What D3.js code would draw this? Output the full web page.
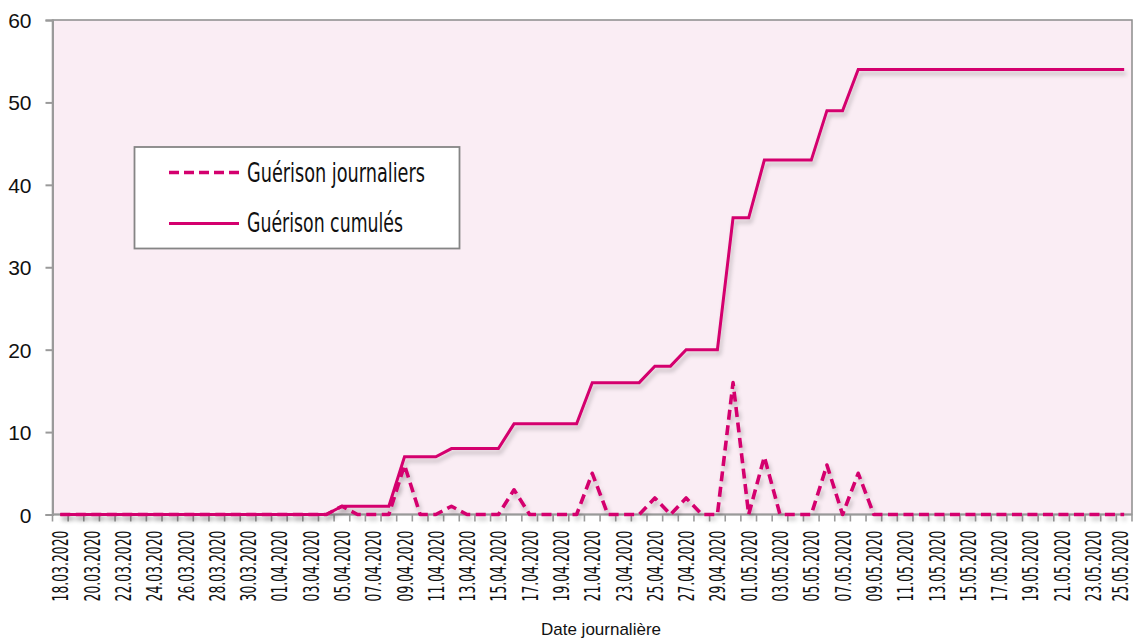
<!DOCTYPE html>
<html><head><meta charset="utf-8">
<script src="https://cdn.jsdelivr.net/npm/d3@7"></script>
<style>html,body{margin:0;padding:0;background:#fff;}svg{display:block;}</style>
</head><body>
<svg id="chart" width="1133" height="640"></svg>
<script>
const dates = ["18.03.2020","19.03.2020","20.03.2020","21.03.2020","22.03.2020","23.03.2020","24.03.2020","25.03.2020","26.03.2020","27.03.2020","28.03.2020","29.03.2020","30.03.2020","31.03.2020",
"01.04.2020","02.04.2020","03.04.2020","04.04.2020","05.04.2020","06.04.2020","07.04.2020","08.04.2020","09.04.2020","10.04.2020","11.04.2020","12.04.2020","13.04.2020","14.04.2020","15.04.2020","16.04.2020","17.04.2020","18.04.2020","19.04.2020","20.04.2020","21.04.2020","22.04.2020","23.04.2020","24.04.2020","25.04.2020","26.04.2020","27.04.2020","28.04.2020","29.04.2020","30.04.2020",
"01.05.2020","02.05.2020","03.05.2020","04.05.2020","05.05.2020","06.05.2020","07.05.2020","08.05.2020","09.05.2020","10.05.2020","11.05.2020","12.05.2020","13.05.2020","14.05.2020","15.05.2020","16.05.2020","17.05.2020","18.05.2020","19.05.2020","20.05.2020","21.05.2020","22.05.2020","23.05.2020","24.05.2020","25.05.2020"];
const guerisonJournaliers = [0,0,0,0,0,0,0,0,0,0,0,0,0,0,0,0,0,0,1,0,0,0,6,0,0,1,0,0,0,3,0,0,0,0,5,0,0,0,2,0,2,0,0,16,0,7,0,0,0,6,0,5,0,0,0,0,0,0,0,0,0,0,0,0,0,0,0,0,0];
const guerisonCumules = [0,0,0,0,0,0,0,0,0,0,0,0,0,0,0,0,0,0,1,1,1,1,7,7,7,8,8,8,8,11,11,11,11,11,16,16,16,16,18,18,20,20,20,36,36,43,43,43,43,49,49,54,54,54,54,54,54,54,54,54,54,54,54,54,54,54,54,54,54];
const yTicks = [0,10,20,30,40,50,60];
const seriesNames = ["Guérison journaliers","Guérison cumulés"];
const xTitle = "Date journalière";

const svg = d3.select("#chart");
const L = 52.5, R = 1132, T = 20, B = 514.5;
const color = "#D4006E";

const x = d3.scaleBand().domain(dates).range([L, R]).padding(0);
const y = d3.scaleLinear().domain([0, 60]).range([B, T]);
const cx = d => x(d) + x.bandwidth() / 2;

const defs = svg.append("defs");
const f = defs.append("filter").attr("id", "sh").attr("x", "-5%").attr("y", "-20%").attr("width", "110%").attr("height", "150%");
f.append("feDropShadow").attr("dx", 2).attr("dy", 4).attr("stdDeviation", 2.2).attr("flood-color", "#000").attr("flood-opacity", 0.22);

// plot background
svg.append("rect").attr("x", L).attr("y", T).attr("width", R - L).attr("height", B - T)
  .attr("fill", "#FAEDF4").attr("stroke", "#8c8c8c").attr("stroke-width", 1.5);

// y axis
const yAxis = svg.append("g").attr("transform", `translate(${L},0)`)
  .call(d3.axisLeft(y).tickValues(yTicks).tickSize(7).tickPadding(14).tickFormat(d3.format("d")));
yAxis.select(".domain").attr("stroke", "#9a9a9a").attr("stroke-width", 2);
yAxis.selectAll(".tick line").attr("stroke", "#9a9a9a").attr("stroke-width", 2);
yAxis.selectAll(".tick text").attr("font-family", "Liberation Sans, Arial, sans-serif")
  .attr("font-size", 21).attr("fill", "#111").attr("dy", "0.36em");

// x axis ticks at category boundaries
const xAxis = svg.append("g").attr("transform", `translate(0,${B})`);
xAxis.append("line").attr("x1", L).attr("x2", R).attr("y1", 0).attr("y2", 0)
  .attr("stroke", "#9a9a9a").attr("stroke-width", 2);
xAxis.selectAll("line.tk").data(dates).enter().append("line").attr("class", "tk")
  .attr("x1", d => x(d)).attr("x2", d => x(d)).attr("y1", 0).attr("y2", 7)
  .attr("stroke", "#9a9a9a").attr("stroke-width", 1.6);
xAxis.append("line").attr("x1", R).attr("x2", R).attr("y1", 0).attr("y2", 7)
  .attr("stroke", "#9a9a9a").attr("stroke-width", 1.6);
const lastLbl = dates[dates.length - 1];
xAxis.selectAll("text.lbl").data(dates.filter((d, i) => i % 2 === 0)).enter().append("text")
  .attr("class", "lbl")
  .attr("transform", d => `translate(${cx(d) + (d === lastLbl ? -3.5 : 0.5)},16) rotate(-90)`)
  .attr("text-anchor", "end").attr("dy", "0.36em")
  .attr("font-family", "Liberation Sans Narrow, DejaVu Sans Condensed, Arial, sans-serif")
  .attr("font-size", 21).attr("fill", "#111")
  .attr("textLength", 71).attr("lengthAdjust", "spacingAndGlyphs")
  .text(d => d);

svg.append("text").attr("x", 601).attr("y", 635).attr("text-anchor", "middle")
  .attr("font-family", "Liberation Sans, Arial, sans-serif").attr("font-size", 17)
  .attr("fill", "#111").text(xTitle);

// lines
const line = d3.line().x((d, i) => cx(dates[i])).y(d => y(d));
svg.append("path").datum(guerisonCumules).attr("d", line).attr("fill", "none")
  .attr("stroke", color).attr("stroke-width", 3).attr("stroke-linejoin", "miter").attr("filter", "url(#sh)");
svg.append("path").datum(guerisonJournaliers).attr("d", line).attr("fill", "none")
  .attr("stroke", color).attr("stroke-width", 3.6).attr("stroke-dasharray", "10,5.5")
  .attr("stroke-linejoin", "round").attr("filter", "url(#sh)");

// legend
const lg = svg.append("g");
lg.append("rect").attr("x", 134.5).attr("y", 147).attr("width", 325).attr("height", 101.5)
  .attr("fill", "#fff").attr("stroke", "#858585").attr("stroke-width", 1.8);
lg.append("line").attr("x1", 169).attr("x2", 239).attr("y1", 172.5).attr("y2", 172.5)
  .attr("stroke", color).attr("stroke-width", 3.6).attr("stroke-dasharray", "10,5");
lg.append("line").attr("x1", 169).attr("x2", 239).attr("y1", 223.5).attr("y2", 223.5)
  .attr("stroke", color).attr("stroke-width", 3);
const lgFont = "Liberation Sans Narrow, DejaVu Sans Condensed, Arial, sans-serif";
lg.append("text").attr("x", 247).attr("y", 181.5).attr("font-family", lgFont).attr("font-size", 27)
  .attr("fill", "#111").attr("textLength", 178).attr("lengthAdjust", "spacingAndGlyphs").text(seriesNames[0]);
lg.append("text").attr("x", 247).attr("y", 231.5).attr("font-family", lgFont).attr("font-size", 27)
  .attr("fill", "#111").attr("textLength", 156).attr("lengthAdjust", "spacingAndGlyphs").text(seriesNames[1]);
</script>
</body></html>
